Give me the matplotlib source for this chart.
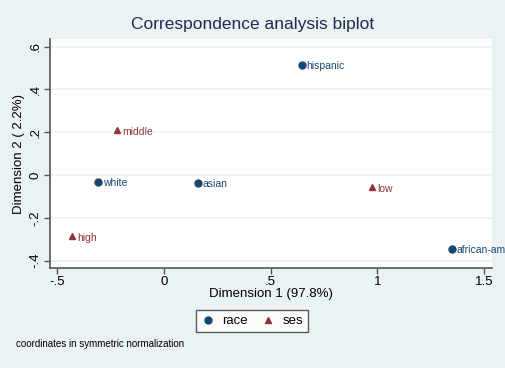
import matplotlib.pyplot as plt

# row (race) and column (ses) coordinates
race_labels = ['white', 'asian', 'hispanic', 'african-american']
race_x = [-0.309, 0.159, 0.645, 1.350]
race_y = [-0.033, -0.037, 0.514, -0.346]

ses_labels = ['high', 'middle', 'low']
ses_x = [-0.431, -0.220, 0.976]
ses_y = [-0.285, 0.210, -0.056]

xticks = [-0.5, 0, 0.5, 1, 1.5]
xtick_labels = ['-.5', '0', '.5', '1', '1.5']
yticks = [-0.4, -0.2, 0, 0.2, 0.4, 0.6]
ytick_labels = ['-.4', '-.2', '0', '.2', '.4', '.6']

bg = '#eaf2f3'
navy = '#1a476f'
maroon = '#90353b'
plt.rcParams['font.family'] = ['Liberation Sans', 'DejaVu Sans']

fig = plt.figure(figsize=(5.06, 3.68), dpi=100, facecolor=bg)
W, H = 506, 368
ax = fig.add_axes([50 / W, 1 - 268 / H, (492 - 50) / W, (268 - 39) / H])
ax.set_facecolor('white')

ax.set_xlim(-0.534, 1.537)
ax.set_ylim(-0.435, 0.636)

for y in yticks:
    ax.axhline(y, color=bg, lw=1.2, zorder=0)

ax.plot(race_x, race_y, 'o', color=navy, ms=5, ls='none', label='race', zorder=3)
ax.plot(ses_x, ses_y, '^', color=maroon, ms=4.5, ls='none', label='ses', zorder=3)

for lab, x, y in zip(race_labels, race_x, race_y):
    ax.annotate(lab, (x, y), xytext=(3.5, -1), textcoords='offset points',
                fontsize=7.5, color=navy, va='center', ha='left', annotation_clip=False)
for lab, x, y in zip(ses_labels, ses_x, ses_y):
    ax.annotate(lab, (x, y), xytext=(3.5, -1.5), textcoords='offset points',
                fontsize=7.5, color=maroon, va='center', ha='left', annotation_clip=False)

for s in ['top', 'right']:
    ax.spines[s].set_visible(False)
for s in ['left', 'bottom']:
    ax.spines[s].set_color('#555555')
    ax.spines[s].set_linewidth(1.2)

ax.set_xticks(xticks)
ax.set_xticklabels(xtick_labels)
ax.set_yticks(yticks)
ax.set_yticklabels(ytick_labels, rotation=90, va='center')
ax.tick_params(axis='both', direction='out', length=4, width=1, color='#555555',
               labelsize=9.5, labelcolor='black', pad=2)

ax.set_xlabel('Dimension 1 (97.8%)', fontsize=9.5, labelpad=0)
ax.set_ylabel('Dimension 2 ( 2.2%)', fontsize=9.5, labelpad=3)

fig.text(253 / W, 1 - 25 / H, 'Correspondence analysis biplot', ha='center', va='center',
         fontsize=12.5, color='#1e2d4f')

leg = fig.legend(loc='center', bbox_to_anchor=(252 / W, 1 - 321 / H), ncol=2,
                 fontsize=9.5, frameon=True, fancybox=False, edgecolor='#333333',
                 handletextpad=0.6, columnspacing=1.0, borderpad=0.4, handlelength=1.0)
leg.get_frame().set_linewidth(1.0)

fig.text(16 / W, 1 - 344 / H, 'coordinates in symmetric normalization', ha='left', va='center',
         fontsize=7)

fig.savefig('out.png', dpi=100, facecolor=bg)
